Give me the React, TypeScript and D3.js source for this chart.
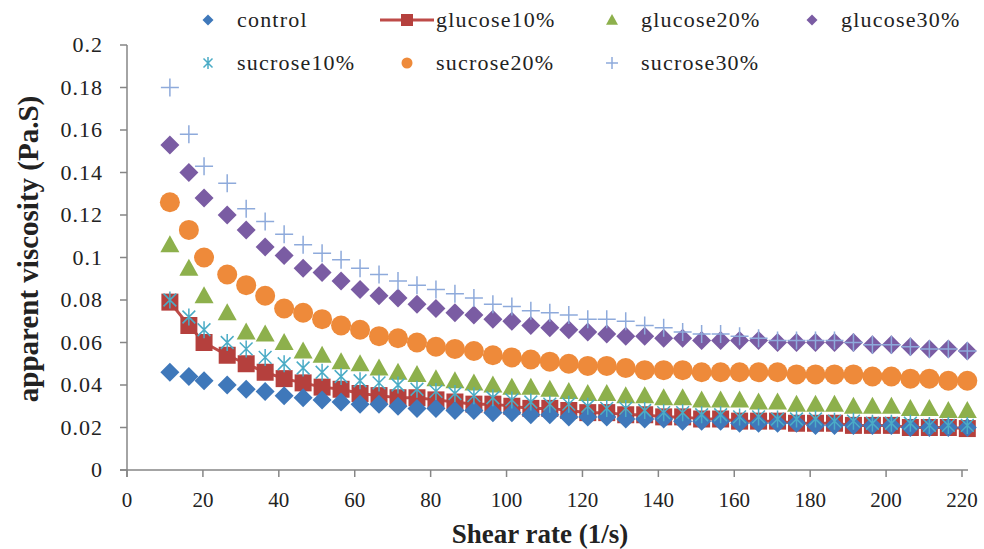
import React from 'react';
import * as d3 from 'd3';

const shearRate = [11.3, 16.3, 20.3, 26.4, 31.4, 36.4, 41.4, 46.4, 51.4, 56.4, 61.4, 66.4, 71.4, 76.4, 81.4, 86.4, 91.4, 96.4, 101.4, 106.4, 111.4, 116.4, 121.4, 126.4, 131.4, 136.4, 141.4, 146.4, 151.4, 156.4, 161.4, 166.4, 171.4, 176.4, 181.4, 186.4, 191.4, 196.4, 201.4, 206.4, 211.4, 216.4, 221.4];

const control = [0.046, 0.044, 0.042, 0.040, 0.038, 0.037, 0.035, 0.034, 0.033, 0.032, 0.031, 0.031, 0.030, 0.029, 0.029, 0.028, 0.028, 0.027, 0.027, 0.026, 0.026, 0.025, 0.025, 0.025, 0.024, 0.024, 0.024, 0.023, 0.023, 0.023, 0.022, 0.022, 0.022, 0.022, 0.021, 0.021, 0.021, 0.021, 0.021, 0.020, 0.020, 0.020, 0.020];
const glucose10 = [0.079, 0.068, 0.060, 0.054, 0.050, 0.046, 0.043, 0.041, 0.039, 0.038, 0.036, 0.035, 0.034, 0.034, 0.033, 0.032, 0.031, 0.031, 0.030, 0.029, 0.029, 0.028, 0.027, 0.027, 0.026, 0.026, 0.025, 0.025, 0.024, 0.024, 0.023, 0.023, 0.023, 0.022, 0.022, 0.022, 0.021, 0.021, 0.021, 0.020, 0.020, 0.020, 0.0195];
const glucose20 = [0.106, 0.095, 0.082, 0.074, 0.065, 0.064, 0.060, 0.056, 0.054, 0.051, 0.050, 0.048, 0.046, 0.045, 0.043, 0.042, 0.041, 0.040, 0.039, 0.039, 0.038, 0.037, 0.036, 0.036, 0.035, 0.035, 0.034, 0.034, 0.033, 0.033, 0.033, 0.032, 0.032, 0.031, 0.031, 0.031, 0.030, 0.030, 0.030, 0.029, 0.029, 0.028, 0.028];
const glucose30 = [0.153, 0.140, 0.128, 0.120, 0.113, 0.105, 0.101, 0.095, 0.093, 0.089, 0.085, 0.082, 0.081, 0.078, 0.076, 0.074, 0.073, 0.071, 0.070, 0.068, 0.067, 0.066, 0.065, 0.064, 0.063, 0.063, 0.062, 0.062, 0.061, 0.061, 0.061, 0.061, 0.060, 0.060, 0.060, 0.060, 0.060, 0.059, 0.059, 0.058, 0.057, 0.057, 0.056];
const sucrose10 = [0.080, 0.072, 0.066, 0.060, 0.057, 0.053, 0.050, 0.048, 0.046, 0.044, 0.042, 0.041, 0.040, 0.038, 0.037, 0.036, 0.035, 0.034, 0.033, 0.032, 0.031, 0.031, 0.030, 0.029, 0.029, 0.028, 0.027, 0.027, 0.026, 0.026, 0.025, 0.025, 0.024, 0.024, 0.024, 0.023, 0.023, 0.022, 0.022, 0.022, 0.021, 0.021, 0.021];
const sucrose20 = [0.126, 0.113, 0.100, 0.092, 0.087, 0.082, 0.076, 0.074, 0.071, 0.068, 0.066, 0.063, 0.062, 0.060, 0.058, 0.057, 0.056, 0.054, 0.053, 0.052, 0.051, 0.050, 0.049, 0.049, 0.048, 0.047, 0.047, 0.047, 0.046, 0.046, 0.046, 0.046, 0.046, 0.045, 0.045, 0.045, 0.045, 0.044, 0.044, 0.043, 0.043, 0.042, 0.042];
const sucrose30 = [0.180, 0.158, 0.143, 0.135, 0.123, 0.117, 0.111, 0.106, 0.102, 0.099, 0.095, 0.092, 0.089, 0.087, 0.085, 0.083, 0.081, 0.078, 0.077, 0.075, 0.074, 0.073, 0.071, 0.071, 0.070, 0.068, 0.067, 0.065, 0.064, 0.064, 0.063, 0.062, 0.061, 0.061, 0.061, 0.061, 0.060, 0.059, 0.059, 0.058, 0.057, 0.057, 0.056];

const xTicks = [0, 20, 40, 60, 80, 100, 120, 140, 160, 180, 200, 220];
const yTicks = [0, 0.02, 0.04, 0.06, 0.08, 0.1, 0.12, 0.14, 0.16, 0.18, 0.2];

type Shape = 'diamond' | 'square' | 'triangle' | 'circle' | 'plus' | 'star';
interface Series { name: string; values: number[]; shape: Shape; color: string; line?: string; }

const seriesList: Series[] = [
  { name: 'control', values: control, shape: 'diamond', color: '#3F78BA' },
  { name: 'glucose10%', values: glucose10, shape: 'square', color: '#B5403D', line: '#BE4B48' },
  { name: 'glucose20%', values: glucose20, shape: 'triangle', color: '#8DB04C' },
  { name: 'glucose30%', values: glucose30, shape: 'diamond', color: '#7A5CA3' },
  { name: 'sucrose10%', values: sucrose10, shape: 'star', color: '#4BACC6' },
  { name: 'sucrose20%', values: sucrose20, shape: 'circle', color: '#EE8A3A' },
  { name: 'sucrose30%', values: sucrose30, shape: 'plus', color: '#8EAADB' },
];
const drawOrder = ['glucose10%', 'control', 'glucose20%', 'glucose30%', 'sucrose10%', 'sucrose20%', 'sucrose30%'];

const W = 984, H = 549;
const FONT = '"Liberation Serif", "Times New Roman", serif';
const xScale = d3.scaleLinear().domain([0, 220]).range([127, 962]);
const yScale = d3.scaleLinear().domain([0, 0.2]).range([470, 45]);

function Marker({ shape, cx, cy, s, color }: { shape: Shape; cx: number; cy: number; s: number; color: string }) {
  if (shape === 'circle') return <circle cx={cx} cy={cy} r={s} fill={color} />;
  if (shape === 'diamond') {
    return <path d={`M${cx},${cy - s}L${cx + s},${cy}L${cx},${cy + s}L${cx - s},${cy}Z`} fill={color} />;
  }
  if (shape === 'square') {
    return <path d={`M${cx - s},${cy - s}H${cx + s}V${cy + s}H${cx - s}Z`} fill={color} />;
  }
  if (shape === 'triangle') {
    return <path d={`M${cx},${cy - s}L${cx + s},${cy + s * 0.8}L${cx - s},${cy + s * 0.8}Z`} fill={color} />;
  }
  if (shape === 'plus') {
    return <path d={`M${cx - s},${cy}H${cx + s}M${cx},${cy - s}V${cy + s}`} stroke={color} strokeWidth={1.5} fill="none" />;
  }
  const k = s * 0.75;
  return <path d={`M${cx},${cy - s}V${cy + s}M${cx - k},${cy - k}L${cx + k},${cy + k}M${cx - k},${cy + k}L${cx + k},${cy - k}`} stroke={color} strokeWidth={1.5} fill="none" />;
}

const plotSize: Record<Shape, number> = { diamond: 9.5, square: 8.5, triangle: 9.5, circle: 10, plus: 9, star: 8.5 };
const legendSize: Record<Shape, number> = { diamond: 5.5, square: 6, triangle: 6, circle: 5.5, plus: 6, star: 6 };

export default function App() {
  const lineGen = d3.line<number>().x((_, i) => xScale(shearRate[i])).y(d => yScale(d));
  const legendCols = [208, 407, 612, 812];
  const legendRows = [20, 63];
  const axisColor = '#868686';
  const fmt = (d: number) => String(+d.toFixed(2));

  return (
    <svg width={W} height={H} style={{ position: 'absolute', left: 0, top: 0, background: '#fff' }} fontFamily={FONT}>
      <rect x={0} y={0} width={W} height={H} fill="#fff" />
      {/* axes */}
      <line x1={xScale(0)} x2={xScale(0)} y1={yScale(0.2)} y2={yScale(0) + 7} stroke={axisColor} strokeWidth={1.5} />
      <line x1={xScale(0) - 7} x2={xScale(220) + 6} y1={yScale(0)} y2={yScale(0)} stroke={axisColor} strokeWidth={1.5} />
      {yTicks.map(t => (
        <g key={'y' + t}>
          <line x1={xScale(0) - 7} x2={xScale(0)} y1={yScale(t)} y2={yScale(t)} stroke={axisColor} strokeWidth={1.5} />
          <text x={103} y={yScale(t) + 7} textAnchor="end" fontSize={22} letterSpacing={1} fill="#222">{fmt(t)}</text>
        </g>
      ))}
      {xTicks.map(t => (
        <g key={'x' + t}>
          <line x1={xScale(t)} x2={xScale(t)} y1={yScale(0)} y2={yScale(0) + 7} stroke={axisColor} strokeWidth={1.5} />
          <text x={xScale(t)} y={507} textAnchor="middle" fontSize={21} fill="#222">{t}</text>
        </g>
      ))}
      <text x={540} y={543} textAnchor="middle" fontSize={27} fontWeight="bold" fill="#222">Shear rate (1/s)</text>
      <text transform="translate(38,249) rotate(-90)" textAnchor="middle" fontSize={29} fontWeight="bold" fill="#222">apparent viscosity (Pa.S)</text>

      {/* series */}
      {drawOrder.map(name => {
        const s = seriesList.find(d => d.name === name)!;
        return (
          <g key={name}>
            {s.line && <path d={lineGen(s.values) || ''} fill="none" stroke={s.line} strokeWidth={3} />}
            {s.values.map((v, i) => (
              <Marker key={i} shape={s.shape} cx={xScale(shearRate[i])} cy={yScale(v)} s={plotSize[s.shape]} color={s.color} />
            ))}
          </g>
        );
      })}

      {/* legend */}
      {seriesList.map((s, i) => {
        const cx = legendCols[i % 4];
        const cy = legendRows[Math.floor(i / 4)];
        return (
          <g key={'lg' + s.name}>
            {s.line && <line x1={cx - 27} x2={cx + 27} y1={cy} y2={cy} stroke={s.line} strokeWidth={3} />}
            <Marker shape={s.shape} cx={cx} cy={cy} s={legendSize[s.shape]} color={s.color} />
            <text x={cx + 29} y={cy + 7} fontSize={22} letterSpacing={1.2} fill="#222">{s.name}</text>
          </g>
        );
      })}
    </svg>
  );
}
